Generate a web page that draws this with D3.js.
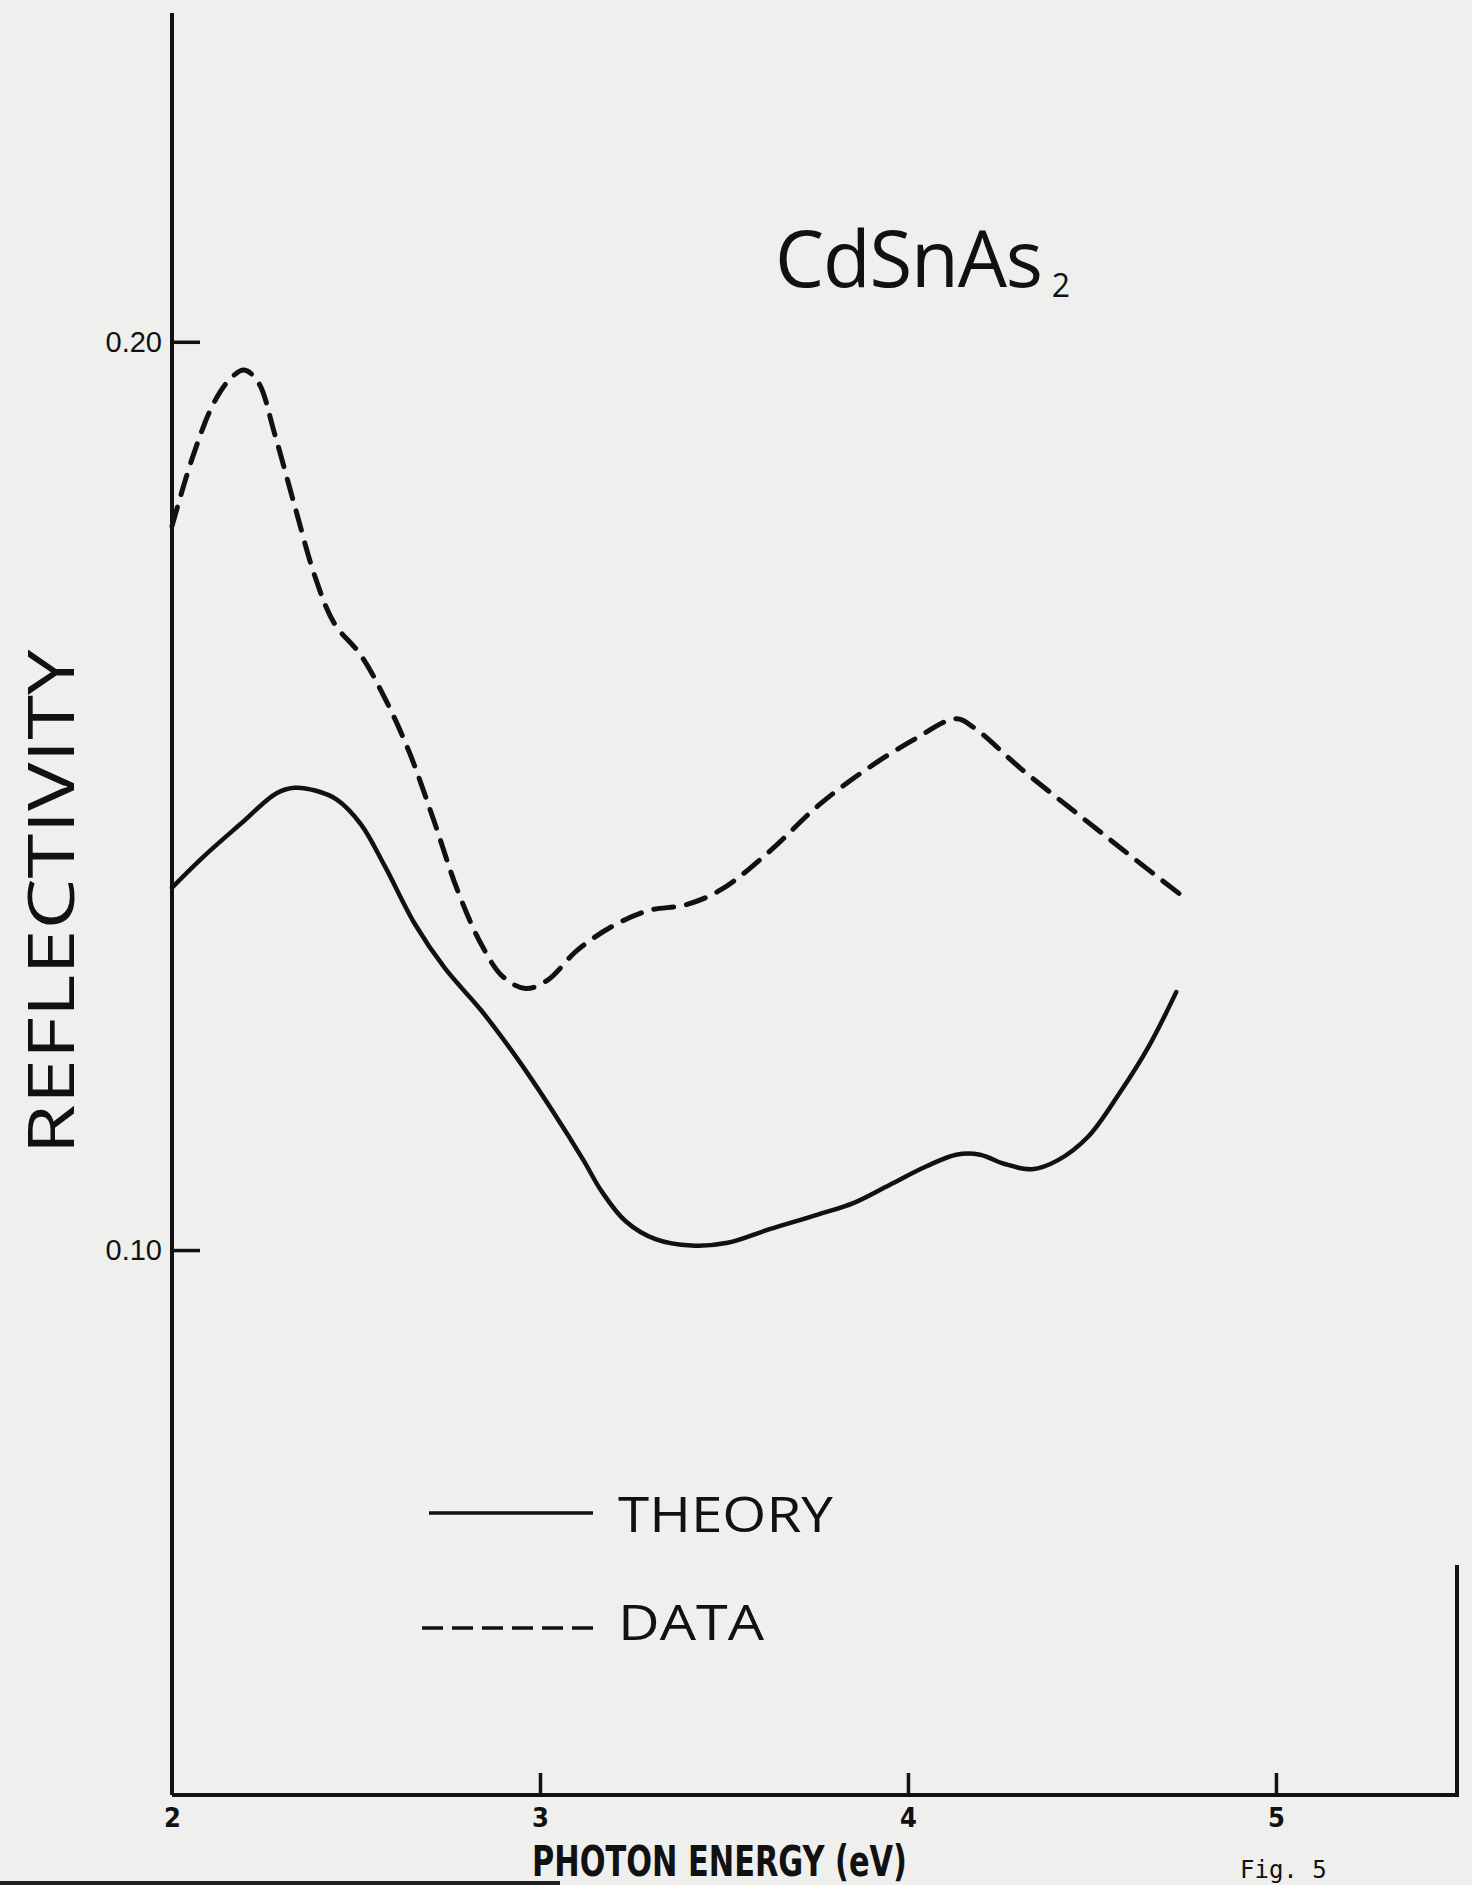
<!DOCTYPE html>
<html>
<head>
<meta charset="utf-8">
<script src="https://cdn.jsdelivr.net/npm/d3@7"></script>
<style>
  html, body { margin: 0; padding: 0; background: #efefed; }
  svg { display: block; }
</style>
</head>
<body>
<div id="chart"></div>
<script>
// photon energy (eV) and reflectivity
const dataEnergy = [2.00, 2.056, 2.114, 2.16, 2.196, 2.235, 2.278, 2.333, 2.389, 2.441, 2.513, 2.578,
  2.644, 2.709, 2.775, 2.84, 2.899, 2.961, 3.02, 3.101, 3.199, 3.297, 3.395, 3.493, 3.624, 3.755,
  3.886, 4.016, 4.131, 4.18, 4.31, 4.474, 4.605, 4.745]
const dataReflectivity = [0.1797, 0.1873, 0.1933, 0.1960, 0.1969, 0.1955, 0.1900, 0.1820, 0.1741,
  0.1690, 0.1655, 0.1608, 0.1549, 0.1476, 0.1397, 0.1337, 0.1301, 0.1288, 0.1297, 0.1330, 0.1357,
  0.1374, 0.1380, 0.1397, 0.1439, 0.1489, 0.1529, 0.1562, 0.1585, 0.1575, 0.1529, 0.1476, 0.1434, 0.1390]

const theoryEnergy = [2.00, 2.088, 2.186, 2.284, 2.333, 2.389, 2.448, 2.513, 2.578, 2.66, 2.742,
  2.84, 2.938, 3.036, 3.118, 3.167, 3.232, 3.314, 3.412, 3.51, 3.624, 3.755, 3.853, 3.951, 4.049,
  4.131, 4.196, 4.261, 4.337, 4.408, 4.49, 4.572, 4.654, 4.729]
const theoryReflectivity = [0.1399, 0.1434, 0.1469, 0.1503, 0.1509, 0.1506, 0.1496, 0.1469, 0.1423,
  0.1359, 0.1310, 0.1264, 0.1211, 0.1152, 0.1099, 0.1065, 0.1032, 0.1012, 0.1005, 0.1008, 0.1023,
  0.1039, 0.1052, 0.1072, 0.1092, 0.1105, 0.1105, 0.1095, 0.1089, 0.1099, 0.1125, 0.1171, 0.1224, 0.1284]

const xTicks = [2, 3, 4, 5]
const yTicks = [0.10, 0.20]
const legendItems = ["THEORY", "DATA"]

const width = 1472
const height = 1885
const ink = "#111"

const svg = d3.select("#chart")
  .append("svg")
  .attr("width", width)
  .attr("height", height)

svg.append("rect")
  .attr("width", width)
  .attr("height", height)
  .attr("fill", "#efefed")

const x = d3.scaleLinear().domain([2, 5.492]).range([172, 1457])
const y = d3.scaleLinear().domain([0.04, 0.2362]).range([1795, 13])

// y axis: ticks pointing inward, labels on the left
const yAxis = svg.append("g")
  .attr("transform", `translate(${x(2)},0)`)
  .call(d3.axisLeft(y).tickValues(yTicks).tickFormat(d3.format(".2f"))
    .tickSize(-28).tickPadding(10))
yAxis.select(".domain").attr("stroke", ink).attr("stroke-width", 4)
  .attr("d", `M0,${y(0.04)}V${y(0.2362)}`)
yAxis.selectAll(".tick line").attr("stroke", ink).attr("stroke-width", 3.5)
yAxis.selectAll(".tick text")
  .attr("fill", ink)
  .style("font-family", "'Liberation Sans', Arial, sans-serif")
  .style("font-size", "29px")

// x axis: short upward ticks, bold labels below
const xAxis = svg.append("g")
  .attr("transform", `translate(0,${y(0.04)})`)
  .call(d3.axisBottom(x).tickValues(xTicks).tickFormat(d3.format("d"))
    .tickSize(-22).tickPadding(13))
xAxis.select(".domain").attr("stroke", ink).attr("stroke-width", 4)
  .attr("d", `M${x(2)},0H${x(5.492)}`)
xAxis.selectAll(".tick line").attr("stroke", ink).attr("stroke-width", 3.5)
  .filter(d => d === 2).remove()
xAxis.selectAll(".tick text")
  .attr("fill", ink)
  .style("font-family", "'DejaVu Sans Condensed', 'DejaVu Sans', sans-serif")
  .style("font-weight", "bold")
  .style("font-size", "27px")

// right edge of the frame
svg.append("line")
  .attr("x1", x(5.492)).attr("x2", x(5.492))
  .attr("y1", 1565).attr("y2", y(0.04) + 2)
  .attr("stroke", ink).attr("stroke-width", 4)

// page edge at the bottom left
svg.append("line")
  .attr("x1", 0).attr("x2", 560)
  .attr("y1", 1883).attr("y2", 1883)
  .attr("stroke", "#222").attr("stroke-width", 4)

// curves
const line = d3.line()
  .x(d => x(d[0]))
  .y(d => y(d[1]))
  .curve(d3.curveCatmullRom.alpha(0.5))

svg.append("path")
  .datum(d3.zip(theoryEnergy, theoryReflectivity))
  .attr("d", line)
  .attr("fill", "none")
  .attr("stroke", ink)
  .attr("stroke-width", 4.5)
  .attr("stroke-linecap", "round")

svg.append("path")
  .datum(d3.zip(dataEnergy, dataReflectivity))
  .attr("d", line)
  .attr("fill", "none")
  .attr("stroke", ink)
  .attr("stroke-width", 5)
  .attr("stroke-dasharray", "20,13")
  .attr("stroke-linecap", "round")

// title
const title = svg.append("text")
  .attr("x", 775)
  .attr("y", 287)
  .attr("fill", ink)
  .style("font-family", "'Open Sans', 'DejaVu Sans', sans-serif")
  .style("font-weight", 400)
  .style("font-size", "78px")
title.append("tspan").text("CdSnAs")
  .attr("textLength", 268).attr("lengthAdjust", "spacing")
title.append("tspan").text("2")
  .attr("dx", 10).attr("dy", 10)
  .style("font-size", "32px")

// axis titles
svg.append("text")
  .attr("transform", "translate(74,902) rotate(-90)")
  .attr("text-anchor", "middle")
  .attr("fill", ink)
  .attr("textLength", 505)
  .attr("lengthAdjust", "spacingAndGlyphs")
  .style("font-family", "'Open Sans', 'DejaVu Sans', sans-serif")
  .style("font-weight", 400)
  .style("font-size", "64px")
  .text("REFLECTIVITY")

svg.append("text")
  .attr("x", 532)
  .attr("y", 1876)
  .attr("fill", ink)
  .attr("textLength", 375)
  .attr("lengthAdjust", "spacingAndGlyphs")
  .style("font-family", "'Liberation Sans Narrow', 'DejaVu Sans Condensed', sans-serif")
  .style("font-weight", "bold")
  .style("font-size", "42px")
  .text("PHOTON  ENERGY (eV)")

// legend
const legend = svg.append("g")
const rowY = [1513, 1628]
legendItems.forEach((name, i) => {
  legend.append("line")
    .attr("x1", i === 0 ? 429 : 422).attr("x2", 593)
    .attr("y1", rowY[i]).attr("y2", rowY[i])
    .attr("stroke", ink)
    .attr("stroke-width", 3.5)
    .attr("stroke-dasharray", i === 0 ? null : "21,9")
  legend.append("text")
    .attr("x", 618)
    .attr("y", rowY[i] + (i === 0 ? 19 : 12))
    .attr("fill", ink)
    .attr("textLength", i === 0 ? 215 : 146)
    .attr("lengthAdjust", "spacingAndGlyphs")
    .style("font-family", "'Open Sans', 'DejaVu Sans', sans-serif")
    .style("font-weight", 500)
    .style("font-size", "50px")
    .text(name)
})

// figure number at the page edge
svg.append("text")
  .attr("x", 1240)
  .attr("y", 1878)
  .attr("fill", ink)
  .style("font-family", "'DejaVu Sans Mono', monospace")
  .style("font-size", "24px")
  .text("Fig. 5")
</script>
</body>
</html>
